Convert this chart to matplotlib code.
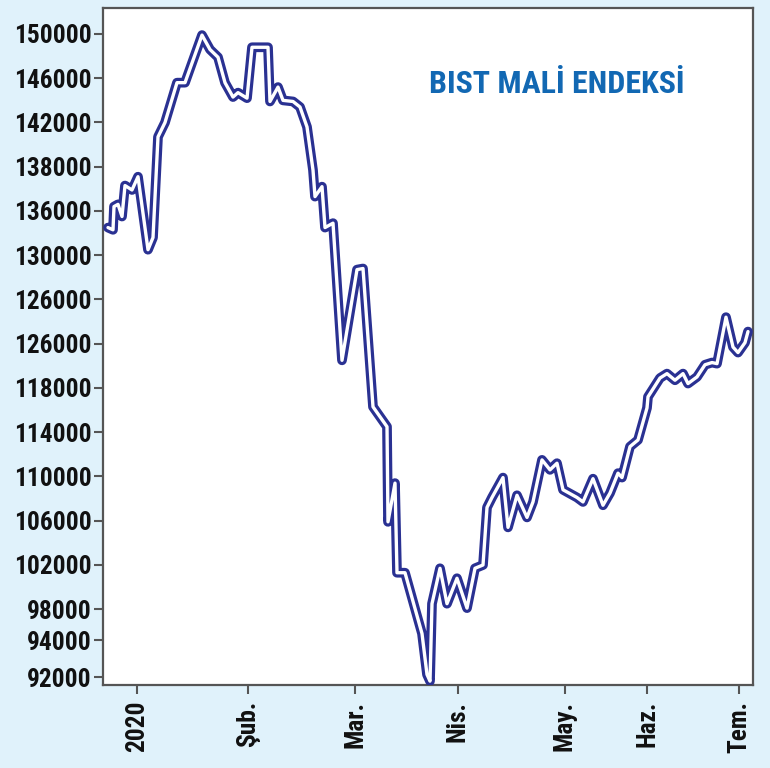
import os
import matplotlib
matplotlib.use("Agg")
import matplotlib.pyplot as plt
from matplotlib import font_manager
from matplotlib.font_manager import FontProperties

# trading-session index (late Dec 2019 .. early Jul 2020)
sessions = [0, 1.0, 1.2, 2.0, 2.8, 3.4, 4.8, 6.0, 8.0, 9.0, 10.0, 11.4, 13.8, 15.4,
            18.8, 20.4, 22.0, 23.4, 25.0, 26.0, 27.8, 28.8, 32.0, 32.4, 34.0, 35.0,
            37.0, 38.4, 39.8, 41.0, 41.4, 42.8, 43.4, 45.0, 46.8, 49.8, 51.0, 53.0,
            55.8, 56.0, 57.4, 57.8, 59.4, 62.8, 63.8, 64.4, 64.8, 66.4, 67.8, 69.8,
            71.8, 73.4, 75.0, 75.8, 76.8, 79.0, 80.0, 81.8, 83.8, 85.0, 86.8, 88.4,
            89.8, 91.0, 93.8, 95.0, 97.0, 99.0, 100.4, 102.0, 102.8, 104.4, 106.0,
            107.8, 108.0, 110.4, 111.8, 113.4, 115.0, 116.0, 117.8, 119.4, 120.8,
            121.8, 123.6, 125.0, 126.0, 127.4, 128.0]
index_values = [132500, 132300, 134400, 134600, 133500, 136300, 135900, 137100,
                130500, 131600, 140700, 142000, 145600, 145600, 149900, 148600,
                147900, 145600, 144300, 144700, 144200, 148800, 148800, 143900,
                145200, 144000, 143900, 143400, 141600, 137700, 135300, 136200,
                132500, 132900, 120500, 128700, 128800, 116300, 114500, 105900,
                109400, 101300, 101300, 95800, 92100, 91500, 98500, 101700, 98500,
                100800, 98100, 101700, 102000, 107200, 108100, 109900, 105400,
                108300, 106300, 107700, 111500, 110600, 111200, 108800, 108100,
                107700, 109800, 107400, 108500, 110300, 109900, 112700, 113300,
                116200, 117200, 118900, 119300, 118700, 119300, 118400, 119000,
                120100, 120300, 120200, 124400, 121700, 121200, 122100, 123100]

month_ticks = [5.8, 28.0, 49.4, 70.0, 91.4, 107.8, 126.2]
month_labels = ["2020", "Şub.", "Mar.", "Nis.", "May.", "Haz.", "Tem."]

y_ticks = [150000, 146000, 142000, 138000, 134000, 130000, 126000, 122000,
           118000, 114000, 110000, 106000, 102000, 98000, 95200, 91850]
y_labels = ["150000", "146000", "142000", "138000", "136000", "130000", "126000",
            "126000", "118000", "114000", "110000", "106000", "102000", "98000",
            "94000", "92000"]

title = "BIST MALİ ENDEKSİ"


def find_condensed_bold():
    cands = []
    for f in font_manager.fontManager.ttflist:
        nm = (f.name + " " + os.path.basename(f.fname)).lower()
        st = f.stretch
        if isinstance(st, str):
            st = font_manager.stretch_dict.get(st, 500)
        cond = ("condensed" in nm or "narrow" in nm or st < 500)
        w = f.weight
        if isinstance(w, str):
            w = font_manager.weight_dict.get(w, 400)
        if cond and w >= 600 and "extra" not in nm and "ultra" not in nm:
            cands.append(f)
    if not cands:
        return None
    pref = ["Roboto", "Open Sans", "Noto Sans", "Liberation Sans", "DejaVu Sans", "Lato", "Inter"]
    def rank(f):
        for i, p in enumerate(pref):
            if f.name.startswith(p):
                return i
        return 99
    cands.sort(key=rank)
    return cands[0].fname


cpath = find_condensed_bold()
if cpath:
    base_fp = FontProperties(fname=cpath)
else:
    base_fp = FontProperties(family=["Liberation Sans", "DejaVu Sans"], weight="bold")

bg = "#e0f2fb"
navy = "#2a3192"

fig = plt.figure(figsize=(7.7, 7.68), dpi=100, facecolor=bg)
ax = fig.add_axes([103/770, 83/768, 650/770, 677/768])
ax.set_facecolor("white")

ax.plot(sessions, index_values, color=navy, lw=7.0, solid_joinstyle="round",
        solid_capstyle="round", zorder=3)
ax.plot(sessions, index_values, color="white", lw=2.4, solid_joinstyle="round",
        solid_capstyle="round", zorder=4)

ax.set_xlim(-1.0, 129.0)
ax.set_ylim(91150, 152350)

ax.set_xticks(month_ticks)
ax.set_xticklabels(month_labels, rotation=90, color="#111111")
ax.set_yticks(y_ticks)
ax.set_yticklabels(y_labels, color="#111111")
ax.tick_params(axis="both", direction="out", length=6.5, width=1.5, color="#555555")
ax.tick_params(axis="y", pad=1.5)
ax.tick_params(axis="x", pad=5)
for s in ax.spines.values():
    s.set_color("#555555")
    s.set_linewidth(1.6)

ttl = ax.text(0.501, 0.888, title, transform=ax.transAxes, color="#1268b3",
              ha="left", va="center")

# size the fonts so the text widths match the reference
renderer = fig.canvas.get_renderer()


def fitted_fp(sample_text, target_px, start=20.0, cap=None):
    fp = base_fp.copy()
    fp.set_size(start)
    t = fig.text(0, 0, sample_text, fontproperties=fp)
    w = t.get_window_extent(renderer).width
    t.remove()
    size = start * target_px / w
    if cap:
        size = min(size, cap)
    fp.set_size(size)
    return fp


tick_fp = fitted_fp("150000", 77, cap=22)
for lab in ax.get_yticklabels() + ax.get_xticklabels():
    lab.set_fontproperties(tick_fp)
ttl.set_fontproperties(fitted_fp(title, 256, cap=32))

fig.savefig("out.png", dpi=100, facecolor=bg)
